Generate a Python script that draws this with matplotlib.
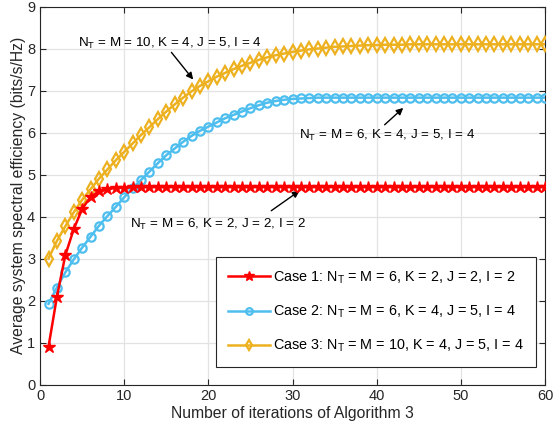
import matplotlib
matplotlib.use("Agg")
import matplotlib.pyplot as plt

plt.rcParams['font.family'] = ['Liberation Sans', 'DejaVu Sans']
plt.rcParams['mathtext.fontset'] = 'custom'
plt.rcParams['mathtext.rm'] = 'Liberation Sans'
plt.rcParams['mathtext.it'] = 'Liberation Sans:italic'

iterations = list(range(1, 61))

case1 = [0.90, 2.09, 3.08, 3.70, 4.18, 4.47, 4.60, 4.66, 4.68, 4.69,
         4.70, 4.70, 4.70, 4.70, 4.70, 4.70, 4.70, 4.70, 4.70, 4.70,
         4.70, 4.70, 4.70, 4.70, 4.70, 4.70, 4.70, 4.70, 4.70, 4.70,
         4.70, 4.70, 4.70, 4.70, 4.70, 4.70, 4.70, 4.70, 4.70, 4.70,
         4.70, 4.70, 4.70, 4.70, 4.70, 4.70, 4.70, 4.70, 4.70, 4.70,
         4.70, 4.70, 4.70, 4.70, 4.70, 4.70, 4.70, 4.70, 4.70, 4.70]

case2 = [1.92, 2.31, 2.67, 2.98, 3.26, 3.52, 3.78, 4.01, 4.23, 4.46,
         4.67, 4.87, 5.07, 5.27, 5.46, 5.62, 5.78, 5.92, 6.04, 6.14,
         6.24, 6.34, 6.42, 6.50, 6.58, 6.65, 6.71, 6.75, 6.78, 6.80,
         6.81, 6.82, 6.83, 6.83, 6.83, 6.83, 6.83, 6.83, 6.83, 6.83,
         6.83, 6.83, 6.83, 6.83, 6.83, 6.83, 6.83, 6.83, 6.83, 6.83,
         6.83, 6.83, 6.83, 6.83, 6.83, 6.83, 6.83, 6.83, 6.83, 6.83]

case3 = [3.00, 3.42, 3.77, 4.10, 4.40, 4.65, 4.90, 5.12, 5.34, 5.54,
         5.74, 5.94, 6.13, 6.32, 6.50, 6.67, 6.83, 6.98, 7.11, 7.22,
         7.33, 7.42, 7.51, 7.59, 7.66, 7.73, 7.79, 7.84, 7.88, 7.92,
         7.95, 7.98, 8.00, 8.02, 8.04, 8.05, 8.06, 8.07, 8.08, 8.08,
         8.09, 8.09, 8.09, 8.10, 8.10, 8.10, 8.10, 8.10, 8.10, 8.10,
         8.10, 8.10, 8.10, 8.10, 8.10, 8.10, 8.10, 8.10, 8.10, 8.10]

labels = [r'Case 1: N$_{\mathrm{T}}$ = M = 6, K = 2, J = 2, I = 2',
          r'Case 2: N$_{\mathrm{T}}$ = M = 6, K = 4, J = 5, I = 4',
          r'Case 3: N$_{\mathrm{T}}$ = M = 10, K = 4, J = 5, I = 4']

x_ticks = [0, 10, 20, 30, 40, 50, 60]
y_ticks = [0, 1, 2, 3, 4, 5, 6, 7, 8, 9]

dark = '#262626'
fig = plt.figure(figsize=(5.53, 4.34), dpi=100)
ax = fig.add_axes([0.0725, 0.114, 0.913, 0.871])

ax.plot(iterations, case1, color='#FF0000', lw=1.8, marker='*', ms=9,
        markerfacecolor='#FF0000', markeredgecolor='#FF0000', label=labels[0], zorder=5)
ax.plot(iterations, case2, color='#4DBEEE', lw=1.8, marker='o', ms=6,
        markerfacecolor='none', markeredgecolor='#4DBEEE', markeredgewidth=1.6,
        label=labels[1], zorder=4)
ax.plot(iterations, case3, color='#EDB120', lw=1.8, marker='d', ms=7,
        markerfacecolor='none', markeredgecolor='#EDB120', markeredgewidth=1.6,
        label=labels[2], zorder=3)

ax.set_xlim(0, 60)
ax.set_ylim(0, 9)
ax.set_xticks(x_ticks)
ax.set_yticks(y_ticks)
ax.grid(True, color='#E3E3E3', lw=0.9)
ax.set_axisbelow(True)
ax.tick_params(direction='in', top=True, right=True, colors=dark, labelsize=10.5,
               length=4, width=0.8, labelcolor=dark)
for s in ax.spines.values():
    s.set_color(dark)
    s.set_linewidth(0.8)

ax.set_xlabel('Number of iterations of Algorithm 3', fontsize=11.3, color=dark, labelpad=2)
ax.set_ylabel('Average system spectral efficiency (bits/s/Hz)', fontsize=11.3, color=dark, labelpad=1)

arrow = dict(arrowstyle='-|>', color='black', lw=1, mutation_scale=10)
ax.annotate(r'N$_{\mathrm{T}}$ = M = 10, K = 4, J = 5, I = 4', xy=(4.5, 8.13),
            ha='left', va='center', fontsize=9.6, color='black')
ax.annotate('', xy=(18.4, 7.21), xytext=(15.4, 7.96), arrowprops=arrow)
ax.annotate(r'N$_{\mathrm{T}}$ = M = 6, K = 4, J = 5, I = 4', xy=(30.8, 5.94),
            ha='left', va='center', fontsize=9.6, color='black')
ax.annotate('', xy=(43.4, 6.63), xytext=(40.7, 6.14), arrowprops=arrow)
ax.annotate(r'N$_{\mathrm{T}}$ = M = 6, K = 2, J = 2, I = 2', xy=(10.7, 3.8),
            ha='left', va='center', fontsize=9.6, color='black')
ax.annotate('', xy=(31.1, 4.65), xytext=(27.2, 4.1), arrowprops=arrow)

leg = ax.legend(loc='lower right', bbox_to_anchor=(0.983, 0.047), fontsize=10.4,
                frameon=True, fancybox=False, edgecolor=dark, framealpha=1,
                handlelength=2.9, handletextpad=0.25, labelspacing=1.25, borderpad=0.85,
                borderaxespad=0, markerscale=0.8)
leg.get_frame().set_linewidth(0.8)
for t in leg.get_texts():
    t.set_color('black')

fig.savefig('out.png', dpi=100)
